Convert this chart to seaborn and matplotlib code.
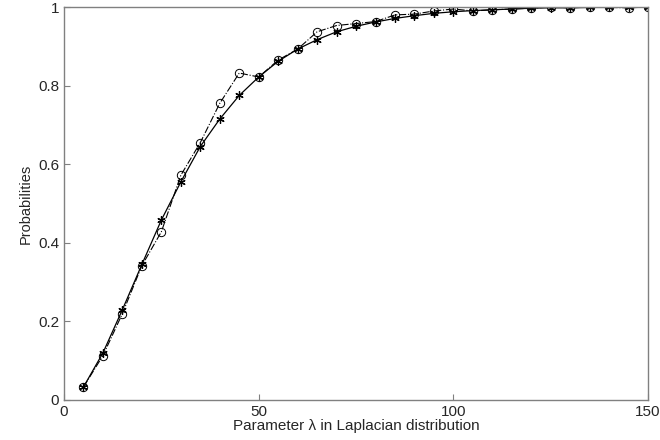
import numpy as np
import pandas as pd
import matplotlib
matplotlib.use('Agg')
import matplotlib.pyplot as plt
import seaborn as sns

# parameter lambda
lam = [5, 10, 15, 20, 25, 30, 35, 40, 45, 50, 55, 60, 65, 70, 75,
       80, 85, 90, 95, 100, 105, 110, 115, 120, 125, 130, 135, 140, 145, 150]

# solid line, '*' markers
prob_star = [0.033, 0.120, 0.230, 0.345, 0.458, 0.555, 0.645, 0.715, 0.775, 0.822,
             0.862, 0.893, 0.917, 0.937, 0.951, 0.962, 0.971, 0.978, 0.984, 0.988,
             0.991, 0.993, 0.995, 0.997, 0.998, 0.998, 0.999, 0.999, 1.000, 1.000]

# dash-dot line, 'o' markers
prob_circ = [0.033, 0.113, 0.220, 0.342, 0.428, 0.572, 0.655, 0.755, 0.832, 0.822,
             0.865, 0.893, 0.937, 0.953, 0.958, 0.963, 0.980, 0.982, 0.990, 0.995,
             0.990, 0.993, 0.995, 0.997, 1.000, 0.998, 1.000, 0.999, 0.998, 1.000]

df = pd.DataFrame({'lam': lam, 'star': prob_star, 'circ': prob_circ})

sns.set_style('ticks')
plt.rcParams['font.family'] = ['Liberation Sans', 'DejaVu Sans']

fig = plt.figure(figsize=(6.6, 4.4), dpi=100)
ax = fig.add_axes([0.097, 0.091, 0.885, 0.893])

sns.lineplot(x='lam', y='circ', data=df, ax=ax, color='black', linewidth=0.8,
             linestyle='-.', marker='o', markersize=6, markerfacecolor='none',
             markeredgecolor='black', markeredgewidth=0.7)
sns.lineplot(x='lam', y='star', data=df, ax=ax, color='black', linewidth=0.9)
star_line = ax.lines[-1]
star_line.set_linestyle('-')
star_line.set_marker((6, 2, 0))
star_line.set_markersize(6)
star_line.set_markeredgewidth(0.9)
star_line.set_markeredgecolor('black')

ax.set_xlim(0, 150)
ax.set_ylim(0, 1)
ax.set_xticks([0, 50, 100, 150])
ax.set_yticks([0, 0.2, 0.4, 0.6, 0.8, 1])
ax.set_yticklabels(['0', '0.2', '0.4', '0.6', '0.8', '1'])
ax.tick_params(direction='in', length=4, labelsize=11, color='#808080')
for s in ax.spines.values():
    s.set_color('#808080')
    s.set_linewidth(1.0)
    s.set_visible(True)
ax.set_xlabel('Parameter λ in Laplacian distribution', fontsize=11, labelpad=0)
ax.set_ylabel('Probabilities', fontsize=10.5, labelpad=4)

fig.savefig('out.png', dpi=100)
